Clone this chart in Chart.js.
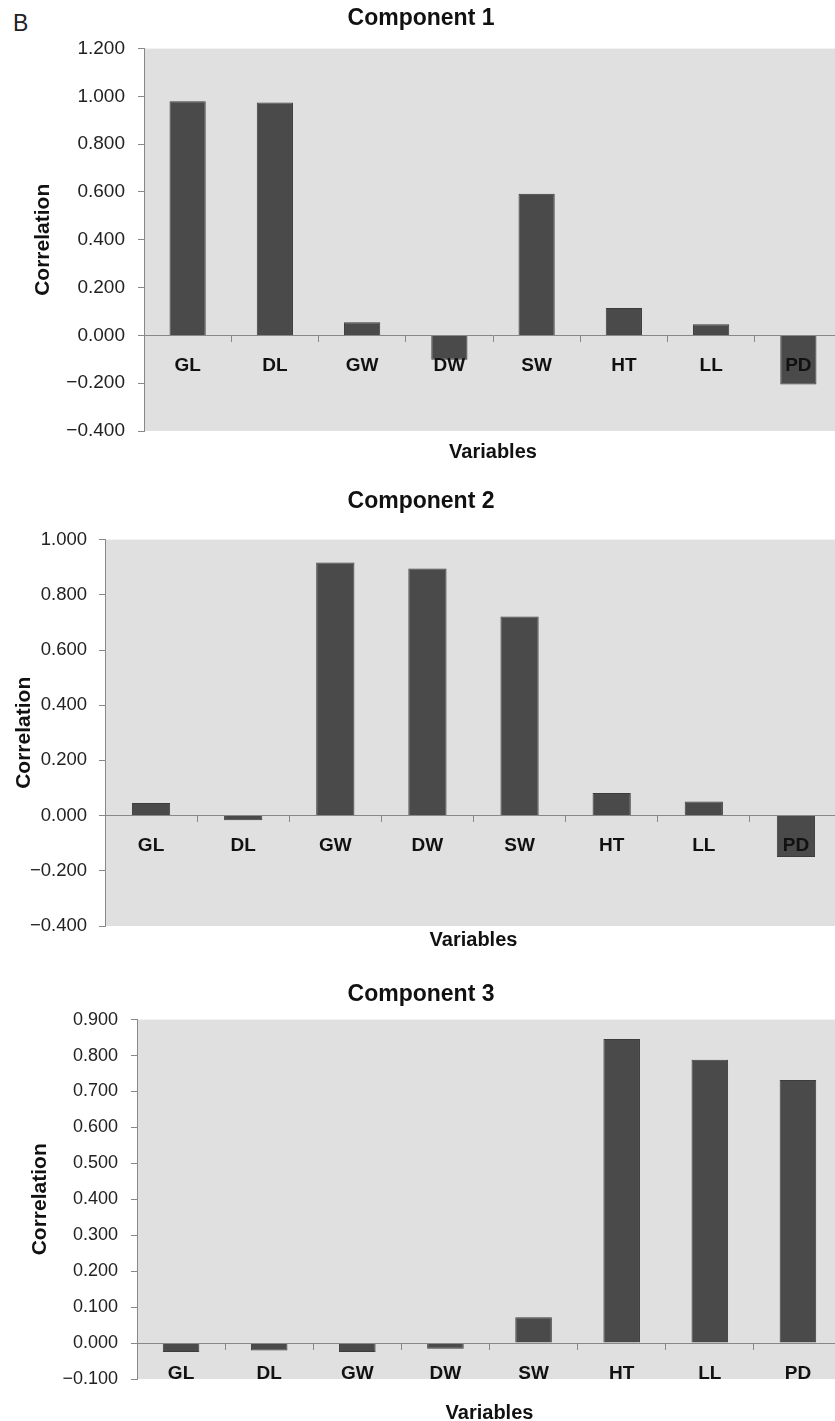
<!DOCTYPE html>
<html>
<head>
<meta charset="utf-8">
<script src="https://cdn.jsdelivr.net/npm/chart.js@4.4.1/dist/chart.umd.min.js"></script>
<style>
  html, body { margin: 0; padding: 0; background: #ffffff; overflow: hidden; width: 835px; height: 1421px; }
  #wrap { position: relative; width: 835px; height: 1421px; overflow: hidden; }
  canvas { position: absolute; left: 0; }
  #panelLetter { position: absolute; left: 13px; top: 12px; font: 23px "Liberation Sans", Arial, sans-serif; line-height: 1; color: #222; }
</style>
</head>
<body>
<div id="wrap">
  <div id="panelLetter">B</div>
  <canvas id="c1" width="845" height="470" style="top:0px"></canvas>
  <canvas id="c2" width="845" height="485" style="top:470px"></canvas>
  <canvas id="c3" width="845" height="475" style="top:955px"></canvas>
</div>
<script>
// ---- data ----
const categories = ["GL", "DL", "GW", "DW", "SW", "HT", "LL", "PD"];
const component1 = [0.980, 0.975, 0.055, -0.102, 0.593, 0.115, 0.047, -0.205];
const component2 = [0.046, -0.017, 0.917, 0.895, 0.721, 0.082, 0.051, -0.150];
const component3 = [-0.025, -0.021, -0.025, -0.016, 0.072, 0.846, 0.788, 0.732];
const yTicks1 = [-0.4, -0.2, 0.0, 0.2, 0.4, 0.6, 0.8, 1.0, 1.2];
const yTicks2 = [-0.4, -0.2, 0.0, 0.2, 0.4, 0.6, 0.8, 1.0];
const yTicks3 = [-0.1, 0.0, 0.1, 0.2, 0.3, 0.4, 0.5, 0.6, 0.7, 0.8, 0.9];
const titles = ["Component 1", "Component 2", "Component 3"];
const yTitle = "Correlation";
const xTitle = "Variables";

// ---- styles ----
const FONT = "'Liberation Sans', Arial, sans-serif";
const plotBg = {
  id: 'plotBg',
  beforeDraw(chart) {
    const a = chart.chartArea, ctx = chart.ctx;
    ctx.save();
    ctx.fillStyle = '#e0e0e0';
    ctx.fillRect(a.left, a.top, a.right - a.left, a.bottom - a.top);
    ctx.restore();
  }
};

function fmt(v) {
  if (Math.abs(v) < 1e-9) v = 0;
  return v.toFixed(3).replace('-', '\u2212');
}

function makeChart(id, title, values, ticks, cfg) {
  new Chart(document.getElementById(id), {
    type: 'bar',
    data: {
      labels: categories,
      datasets: [{
        data: values,
        backgroundColor: '#4a4a4a',
        borderColor: '#3c3c3c',
        borderWidth: 1,
        barPercentage: 0.83,
        categoryPercentage: 0.5
      }]
    },
    options: {
      responsive: false,
      animation: false,
      layout: { padding: { left: 0, right: 3, top: 0, bottom: 0 } },
      plugins: {
        legend: { display: false },
        tooltip: { enabled: false },
        title: {
          display: true, text: title, color: '#111',
          font: { family: FONT, size: 23, weight: 'bold' },
          padding: { top: cfg.titleTop, bottom: cfg.titleBottom }
        }
      },
      scales: {
        y: {
          min: ticks[0], max: ticks[ticks.length - 1],
          afterBuildTicks: s => { s.ticks = ticks.map(v => ({ value: v })); },
          afterFit: s => { s.width = cfg.yWidth; },
          ticks: {
            callback: v => fmt(v), color: '#222', padding: cfg.yTickPad,
            font: { family: FONT, size: cfg.yFont }
          },
          grid: { drawOnChartArea: false, drawTicks: true, tickLength: 6, color: '#888' },
          border: { display: true, color: '#888', width: 1 },
          title: {
            display: true, text: yTitle, color: '#111',
            font: { family: FONT, size: 21, weight: 'bold' },
            padding: { top: cfg.yTitlePad, bottom: 0 }
          }
        },
        x: {
          position: { y: 0 },
          offset: true,
          ticks: {
            z: 1, autoSkip: false, color: '#111', padding: 13,
            font: { family: FONT, size: 19, weight: 'bold' }, maxRotation: 0
          },
          grid: { z: 1, offset: true, drawOnChartArea: false, drawTicks: true, tickLength: 6, color: '#888' },
          border: { z: 1, display: true, color: '#888', width: 1 }
        },
        x2: {
          type: 'category',
          position: 'bottom',
          labels: categories,
          afterFit: s => { s.height = cfg.x2Height; },
          ticks: { display: false },
          grid: { display: false, drawTicks: false },
          border: { display: false },
          title: {
            display: true, text: xTitle, color: '#111',
            font: { family: FONT, size: 20, weight: 'bold' },
            padding: { top: cfg.xTitlePad, bottom: cfg.xTitlePad }
          }
        }
      }
    },
    plugins: [plotBg]
  });
}

makeChart('c1', titles[0], component1, yTicks1,
  { titleTop: 5, titleBottom: 16, yWidth: 144, yTickPad: 13, yFont: 19, yTitlePad: 31, x2Height: 39, xTitlePad: 6 });
makeChart('c2', titles[1], component2, yTicks2,
  { titleTop: 18, titleBottom: 24, yWidth: 105, yTickPad: 12, yFont: 18.5, yTitlePad: 12, x2Height: 29, xTitlePad: 3 });
makeChart('c3', titles[2], component3, yTicks3,
  { titleTop: 26, titleBottom: 11, yWidth: 137, yTickPad: 13, yFont: 18, yTitlePad: 28, x2Height: 51, xTitlePad: 5 });
</script>
</body>
</html>
